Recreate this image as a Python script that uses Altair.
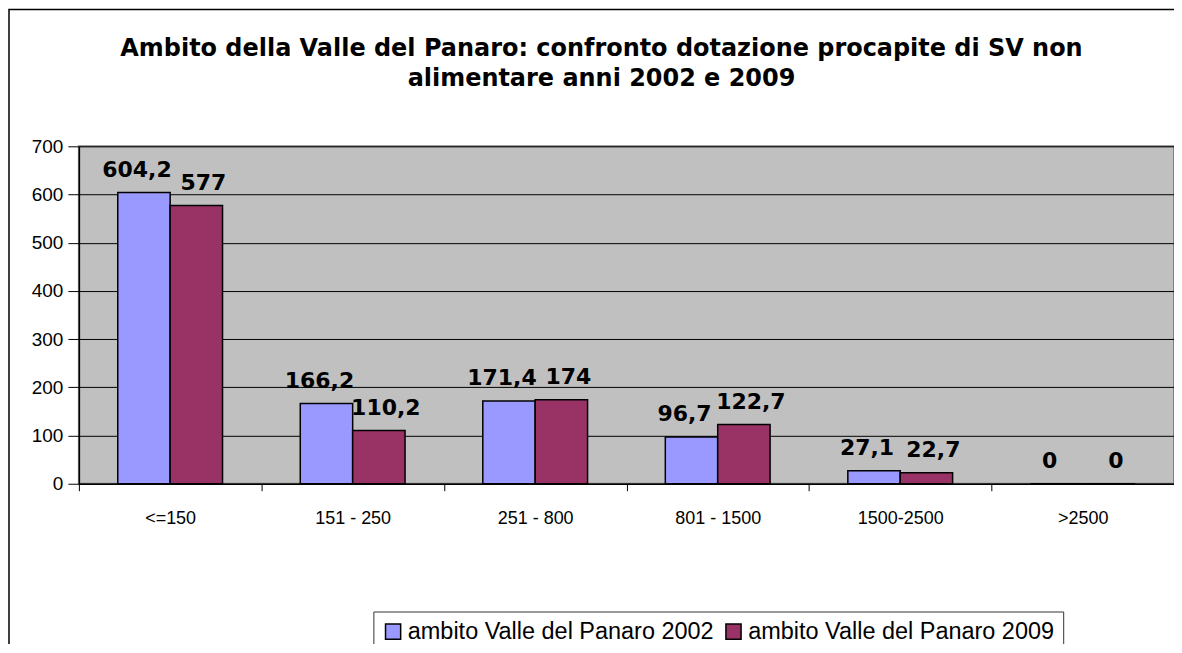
import altair as alt
import pandas as pd

categories = ["<=150", "151 - 250", "251 - 800", "801 - 1500", "1500-2500", ">2500"]
series = ["ambito Valle del Panaro 2002", "ambito Valle del Panaro 2009"]
values_2002 = [604.2, 166.2, 171.4, 96.7, 27.1, 0]
values_2009 = [577, 110.2, 174, 122.7, 22.7, 0]
y_ticks = [0, 100, 200, 300, 400, 500, 600, 700]
title_lines = [
    "Ambito della Valle del Panaro: confronto dotazione procapite di SV non",
    "alimentare anni 2002 e 2009",
]

rows = []
for s, vals in zip(series, [values_2002, values_2009]):
    for c, v in zip(categories, vals):
        rows.append({"cat": c, "serie": s, "val": v,
                     "lab": f"{v:g}".replace(".", ",")})
df = pd.DataFrame(rows)

W, H = 1097, 338

xscale = alt.Scale(paddingInner=0, paddingOuter=0)
base = alt.Chart(df).encode(
    x=alt.X("cat:N", sort=categories, scale=xscale,
            axis=alt.Axis(title=None, labelAngle=0, tickBand="extent",
                          labelFontSize=18, labelFont="Liberation Sans",
                          labelColor="black", domainColor="black",
                          tickColor="black", tickSize=7, labelPadding=19,
                          grid=False, domainWidth=1.5)),
    xOffset=alt.XOffset("serie:N", sort=series,
                        scale=alt.Scale(paddingInner=0, paddingOuter=0.742)),
)

bars = base.mark_bar(stroke="black", strokeWidth=1.5).encode(
    y=alt.Y("val:Q", scale=alt.Scale(domain=[0, 700]),
            axis=alt.Axis(values=y_ticks, title=None, labelFontSize=19,
                          labelFont="Liberation Sans", labelColor="black",
                          domainColor="black", tickColor="black", tickSize=11,
                          labelPadding=5, grid=True, gridColor="black",
                          gridWidth=1, domainWidth=1.5)),
    color=alt.Color("serie:N", sort=series,
                    scale=alt.Scale(domain=series, range=["#9999FF", "#993366"]),
                    legend=alt.Legend(orient="none", legendX=295, legendY=466,
                                      direction="horizontal", title=None,
                                      strokeColor="#333333", fillColor="white",
                                      padding=8, symbolType="square",
                                      symbolSize=230, symbolStrokeColor="black",
                                      symbolStrokeWidth=1.5, symbolOpacity=1,
                                      labelFontSize=23.5, labelFont="Liberation Sans",
                                      labelColor="black", columnPadding=7,
                                      labelOffset=3, labelLimit=500)),
)

label_style = dict(fontWeight="bold", font="DejaVu Sans", fontSize=22,
                   baseline="bottom", dy=-11, color="black")
labels_a = base.transform_filter(alt.datum.serie == series[0]).mark_text(
    dx=-7, **label_style).encode(y=alt.Y("val:Q"), text="lab:N")
labels_b = base.transform_filter(alt.datum.serie == series[1]).mark_text(
    dx=7, **label_style).encode(y=alt.Y("val:Q"), text="lab:N")

frame = alt.Chart(pd.DataFrame({"a": [0]})).mark_rect(
    fillOpacity=0, stroke="black", strokeWidth=1.5, clip=False
).encode(x=alt.value(-70), x2=alt.value(1300),
         y=alt.value(-137), y2=alt.value(800))

chart = alt.layer(frame, bars, labels_a, labels_b).properties(
    width=W, height=H,
    title=alt.TitleParams(text=title_lines, anchor="middle", frame="group",
                          fontSize=24, font="DejaVu Sans", fontWeight="bold",
                          color="black", offset=-82, dx=-25, lineHeight=30),
    autosize=alt.AutoSizeParams(type="none"),
    padding={"left": 71, "top": 138, "right": 0, "bottom": 160},
).configure(background="white").configure_view(
    fill="#C0C0C0", stroke="#808080", strokeWidth=2)

chart.save("out.html", embed_options={"renderer": "svg", "actions": False})
